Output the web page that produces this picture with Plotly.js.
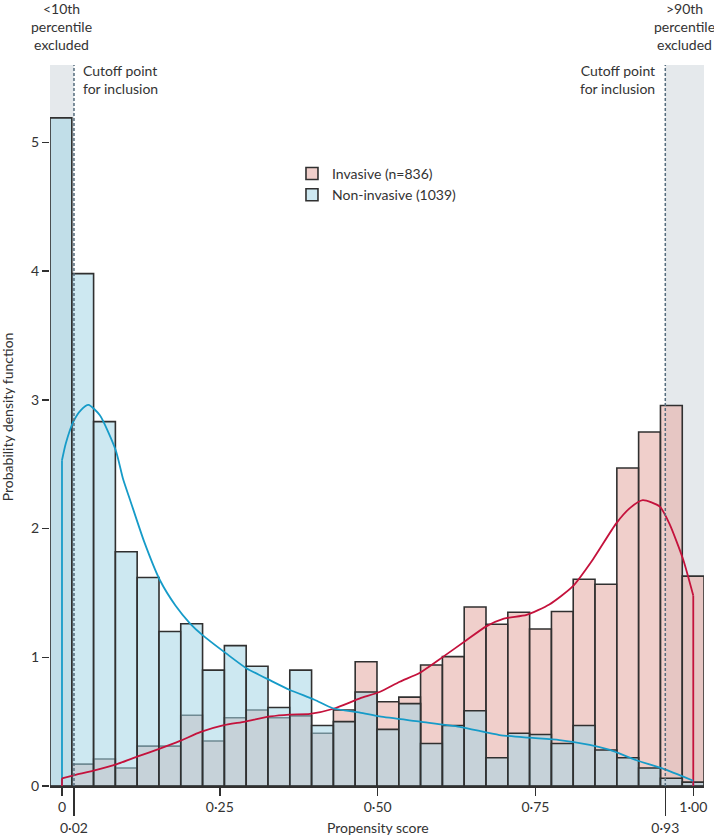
<!DOCTYPE html>
<html>
<head>
<meta charset="utf-8">
<script src="https://cdn.plot.ly/plotly-3.0.1.min.js"></script>
<style>
  html, body { margin: 0; padding: 0; background: #fff; }
  #chart { width: 714px; height: 836px; }
</style>
</head>
<body>
<div id="chart"></div>
<script>
// ---- Data ----
var binCenters = [-0.0017, 0.0328, 0.0673, 0.1018, 0.1364, 0.1709, 0.2054, 0.2400, 0.2745, 0.3091,
                  0.3436, 0.3781, 0.4127, 0.4472, 0.4817, 0.5163, 0.5508, 0.5853, 0.6199, 0.6544,
                  0.6890, 0.7235, 0.7580, 0.7926, 0.8271, 0.8616, 0.8962, 0.9307, 0.9653, 0.9998];
var invasiveDensity = [0.00, 0.17, 0.21, 0.14, 0.31, 0.31, 0.55, 0.35, 0.53, 0.59,
                       0.53, 0.545, 0.41, 0.59, 0.965, 0.655, 0.69, 0.94, 1.005, 1.39,
                       1.256, 1.35, 1.22, 1.355, 1.606, 1.567, 2.47, 2.75, 2.955, 1.63];
var nonInvasiveDensity = [5.19, 3.98, 2.83, 1.82, 1.62, 1.20, 1.26, 0.90, 1.09, 0.93,
                          0.61, 0.90, 0.47, 0.50, 0.73, 0.44, 0.64, 0.33, 0.47, 0.585,
                          0.22, 0.41, 0.40, 0.33, 0.47, 0.28, 0.22, 0.14, 0.06, 0.03];

// kernel density curves (drawn from x = 0 to x = 1)
var kdeNonX = [0, 0.006, 0.018, 0.03, 0.042, 0.06, 0.085, 0.097, 0.108, 0.13, 0.155, 0.18, 0.2026,
               0.223, 0.26, 0.292, 0.33, 0.361, 0.40, 0.429, 0.472, 0.503, 0.567, 0.63, 0.693, 0.74,
               0.788, 0.836, 0.868, 0.91, 0.951, 1.0];
var kdeNonY = [2.53, 2.66, 2.83, 2.92, 2.96, 2.88, 2.61, 2.38, 2.22, 1.90, 1.60, 1.40, 1.264,
               1.17, 1.03, 0.915, 0.82, 0.746, 0.67, 0.604, 0.57, 0.54, 0.50, 0.46, 0.396, 0.375,
               0.357, 0.32, 0.28, 0.20, 0.137, 0.041];
var kdeInvX = [0, 0.02, 0.05, 0.087, 0.12, 0.155, 0.187, 0.22, 0.255, 0.29, 0.33, 0.36, 0.393,
               0.43, 0.472, 0.503, 0.535, 0.567, 0.604, 0.64, 0.672, 0.70, 0.736, 0.772, 0.809,
               0.841, 0.878, 0.90, 0.92, 0.947, 0.962, 0.984, 1.0];
var kdeInvY = [0.06, 0.085, 0.12, 0.17, 0.23, 0.29, 0.35, 0.42, 0.47, 0.50, 0.54, 0.555, 0.56,
               0.60, 0.68, 0.73, 0.81, 0.88, 1.005, 1.13, 1.24, 1.30, 1.33, 1.41, 1.55,
               1.76, 2.04, 2.16, 2.22, 2.17, 2.04, 1.76, 1.48];

var seriesNames = ['Invasive (n=836)', 'Non-invasive (1039)'];
var xTickVals = [0, 0.25, 0.5, 0.75, 1.0];
var xTickText = ['0', '0·25', '0·50', '0·75', '1·00'];
var yTickVals = [0, 1, 2, 3, 4, 5];
var yTickText = ['0', '1', '2', '3', '4', '5'];
var cutoffX = [0.019, 0.9557];
var cutoffText = ['0·02', '0·93'];

// ---- Styling ----
var FONT = 'Lato, "Open Sans", sans-serif';
var TXT = '#333333';
var EDGE = 'rgb(48,48,48)';
var BLUE_LINE = 'rgb(22,155,200)';
var RED_LINE = 'rgb(196,18,60)';
var BIN_W = 0.03453;
var X_RANGE = [-0.019, 1.017];
var Y_RANGE = [0, 5.95];
var SHADE_TOP = 5.60;

function last(a) { return a[a.length - 1]; }

// vertical end segments of a density curve (from the axis up to the curve's end values)
function endSegments(xs, ys, color) {
  return [
    { type: 'scatter', mode: 'lines', x: [xs[0], xs[0]], y: [0, ys[0]], showlegend: false,
      hoverinfo: 'skip', line: { color: color, width: 1.8 } },
    { type: 'scatter', mode: 'lines', x: [last(xs), last(xs)], y: [last(ys), 0], showlegend: false,
      hoverinfo: 'skip', line: { color: color, width: 1.8 } }
  ];
}

var traces = [
  {
    type: 'bar', name: seriesNames[0], x: binCenters, y: invasiveDensity, width: BIN_W,
    marker: { color: 'rgba(230,175,168,0.6)', line: { color: EDGE, width: 1.6 } },
    hoverinfo: 'x+y'
  },
  {
    type: 'bar', name: seriesNames[1], x: binCenters, y: nonInvasiveDensity, width: BIN_W,
    marker: { color: 'rgba(164,213,230,0.55)', line: { color: EDGE, width: 1.6 } },
    hoverinfo: 'x+y'
  }
].concat(endSegments(kdeNonX, kdeNonY, BLUE_LINE))
 .concat(endSegments(kdeInvX, kdeInvY, RED_LINE))
 .concat([
  {
    type: 'scatter', mode: 'lines', x: kdeInvX, y: kdeInvY, showlegend: false,
    line: { color: RED_LINE, width: 1.8, shape: 'spline', smoothing: 0.6 }, hoverinfo: 'skip'
  },
  {
    type: 'scatter', mode: 'lines', x: kdeNonX, y: kdeNonY, showlegend: false,
    line: { color: BLUE_LINE, width: 1.8, shape: 'spline', smoothing: 0.6 }, hoverinfo: 'skip'
  },
  {
    type: 'scatter', mode: 'markers', x: cutoffX, y: [null, null], xaxis: 'x2', yaxis: 'y',
    showlegend: false, hoverinfo: 'skip', marker: { opacity: 0 }
  }
]);

var layout = {
  width: 714, height: 836,
  margin: { l: 50, r: 10, t: 20, b: 50 },
  paper_bgcolor: '#ffffff', plot_bgcolor: 'rgba(0,0,0,0)',
  font: { family: FONT, size: 14, color: TXT },
  barmode: 'overlay', bargap: 0,
  showlegend: true,
  legend: {
    x: 0.370, y: 0.820, xanchor: 'left', yanchor: 'top',
    bgcolor: 'rgba(0,0,0,0)', font: { family: FONT, size: 14, color: TXT },
    traceorder: 'normal', itemclick: false, tracegroupgap: 0
  },
  xaxis: {
    range: X_RANGE, tickvals: xTickVals, ticktext: xTickText,
    ticks: 'outside', ticklen: 8, tickwidth: 1.5, tickcolor: EDGE,
    showline: true, linecolor: EDGE, linewidth: 1.5,
    showgrid: false, zeroline: false, automargin: false,
    tickfont: { family: FONT, size: 14, color: TXT }
  },
  xaxis2: {
    overlaying: 'x', anchor: 'y', side: 'bottom', range: X_RANGE,
    tickvals: cutoffX, ticktext: cutoffText,
    ticks: 'outside', ticklen: 29, tickwidth: 1.5, tickcolor: EDGE,
    showline: false, showgrid: false, zeroline: false, automargin: false,
    tickfont: { family: FONT, size: 14, color: TXT }
  },
  yaxis: {
    range: Y_RANGE, tickvals: yTickVals, ticktext: yTickText,
    ticks: 'outside', ticklen: 7, tickwidth: 1.5, tickcolor: EDGE,
    showline: false, showgrid: false, zeroline: false, automargin: false,
    tickfont: { family: FONT, size: 14, color: TXT }
  },
  shapes: [
    { type: 'rect', layer: 'below', xref: 'x', yref: 'y', x0: X_RANGE[0], x1: cutoffX[0], y0: 0, y1: SHADE_TOP,
      fillcolor: 'rgb(229,233,236)', line: { width: 0 } },
    { type: 'rect', layer: 'below', xref: 'x', yref: 'y', x0: cutoffX[1], x1: X_RANGE[1], y0: 0, y1: SHADE_TOP,
      fillcolor: 'rgb(229,233,236)', line: { width: 0 } },
    { type: 'line', layer: 'above', xref: 'x', yref: 'y', x0: cutoffX[0], x1: cutoffX[0], y0: 0, y1: SHADE_TOP,
      line: { color: 'rgb(85,108,125)', width: 1.5, dash: '3px,2px' } },
    { type: 'line', layer: 'above', xref: 'x', yref: 'y', x0: cutoffX[1], x1: cutoffX[1], y0: 0, y1: SHADE_TOP,
      line: { color: 'rgb(85,108,125)', width: 1.5, dash: '3px,2px' } }
  ],
  annotations: [
    { text: '&lt;10th<br>percentile<br>excluded', xref: 'x', yref: 'paper', x: 0, y: 0.992,
      xanchor: 'center', yanchor: 'middle', align: 'center', showarrow: false,
      font: { family: FONT, size: 14, color: TXT } },
    { text: '&gt;90th<br>percentile<br>excluded', xref: 'x', yref: 'paper', x: 0.986, y: 0.992,
      xanchor: 'center', yanchor: 'middle', align: 'center', showarrow: false,
      font: { family: FONT, size: 14, color: TXT } },
    { text: 'Cutoff point<br>for inclusion', xref: 'x', yref: 'paper', x: 0.030, y: 0.9217,
      xanchor: 'left', yanchor: 'middle', align: 'left', showarrow: false,
      font: { family: FONT, size: 14, color: TXT } },
    { text: 'Cutoff point<br>for inclusion', xref: 'x', yref: 'paper', x: 0.9425, y: 0.9217,
      xanchor: 'right', yanchor: 'middle', align: 'right', showarrow: false,
      font: { family: FONT, size: 14, color: TXT } },
    { text: 'Probability density function', xref: 'paper', yref: 'paper', x: -0.065, y: 0.482,
      textangle: -90, xanchor: 'center', yanchor: 'middle', showarrow: false,
      font: { family: FONT, size: 14, color: TXT } },
    { text: 'Propensity score', xref: 'x', yref: 'paper', x: 0.5, y: -0.0548,
      xanchor: 'center', yanchor: 'middle', showarrow: false,
      font: { family: FONT, size: 14, color: TXT } }
  ]
};

Plotly.newPlot('chart', traces, layout, { displayModeBar: false, staticPlot: true });
</script>
</body>
</html>
